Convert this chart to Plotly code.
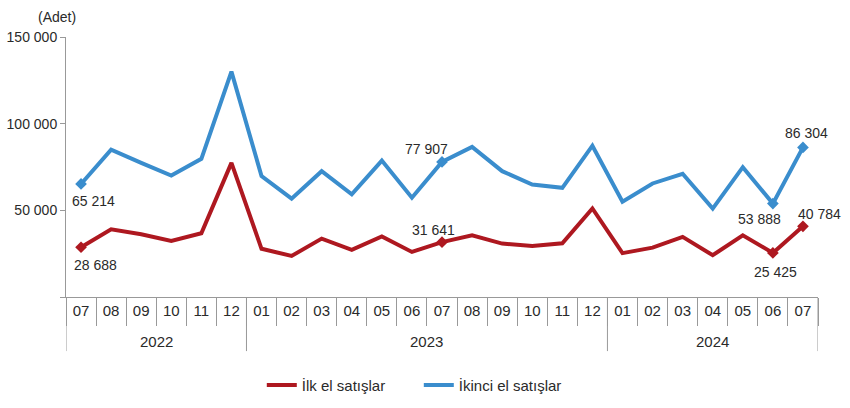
import plotly.graph_objects as go

months = ["07", "08", "09", "10", "11", "12",
          "01", "02", "03", "04", "05", "06", "07", "08", "09", "10", "11", "12",
          "01", "02", "03", "04", "05", "06", "07"]
years = ["2022"] * 6 + ["2023"] * 12 + ["2024"] * 7
year_labels = ["2022", "2023", "2024"]

ilk_el = [28688, 39000, 36200, 32400, 36800, 77400,
          27800, 23700, 33700, 27200, 34900, 26000, 31641, 35600, 30800, 29500, 31000, 51100,
          25300, 28500, 34700, 24100, 35600, 25425, 40784]
ikinci_el = [65214, 85000, 77400, 70100, 79700, 130000,
             69800, 56700, 72600, 59200, 78700, 57300, 77907, 86600, 72600, 64900, 63000, 87300,
             55000, 65500, 71100, 51000, 74900, 53888, 86304]

labeled_idx = [0, 12, 23, 24]
# label offsets in px (dx, dy up-positive)
ilk_shift = [(14, -18), (-9, 12), (3, -19), (17, 12)]
ikinci_shift = [(12, -17), (-16, 13), (-13, -15), (4, 14)]

keys = [f"{y}-{m}" for y, m in zip(years, months)]

def fmt(v):
    return f"{v:,}".replace(",", " ")

RED = "#AE1820"
BLUE = "#3A8DCD"
AX = "#999999"
TXT = "#2a2a2a"
FONT = "Liberation Sans, Arial, sans-serif"

fig = go.Figure()
annotations = []
for name, vals, color, shifts in [("İlk el satışlar", ilk_el, RED, ilk_shift),
                                  ("İkinci el satışlar", ikinci_el, BLUE, ikinci_shift)]:
    fig.add_trace(go.Scatter(x=keys, y=vals, name=name, mode="lines",
                             line=dict(color=color, width=4)))
    fig.add_trace(go.Scatter(x=[keys[i] for i in labeled_idx], y=[vals[i] for i in labeled_idx],
                             mode="markers", showlegend=False, hoverinfo="skip",
                             marker=dict(symbol="diamond", size=9, color=color),
                             cliponaxis=False))
    for i, (dx, dy) in zip(labeled_idx, shifts):
        annotations.append(dict(text=fmt(vals[i]), x=keys[i], y=vals[i], xref="x", yref="y",
                                xshift=dx, yshift=dy, showarrow=False,
                                xanchor="center", yanchor="middle",
                                font=dict(family=FONT, size=14, color=TXT)))

# year group dividers and labels (axis decoration)
shapes = []
starts = [years.index(y) for y in year_labels]
bounds = starts + [len(years)]
for b in bounds:
    shapes.append(dict(type="line", xref="x", yref="paper", x0=b - 0.5, x1=b - 0.5,
                       y0=0, y1=-0.208, line=dict(color=AX, width=1)))
for y, s, e in zip(year_labels, bounds[:-1], bounds[1:]):
    annotations.append(dict(text=y, xref="x", yref="paper", x=(s + e - 1) / 2, y=-0.173,
                            xanchor="center", yanchor="middle", showarrow=False,
                            font=dict(family=FONT, size=15, color=TXT)))
annotations.append(dict(text="(Adet)", xref="paper", yref="paper", x=-0.012, y=1.077,
                        xanchor="center", yanchor="middle", showarrow=False,
                        font=dict(family=FONT, size=14, color=TXT)))

fig.update_layout(
    width=850, height=408,
    margin=dict(l=66, r=32, t=37, b=111, autoexpand=False),
    plot_bgcolor="white", paper_bgcolor="white",
    font=dict(family=FONT, size=14, color=TXT),
    showlegend=True,
    legend=dict(orientation="h", xref="container", yref="container",
                x=0.308, xanchor="left", y=0.056, yanchor="middle",
                font=dict(family=FONT, size=15, color=TXT),
                entrywidth=112, entrywidthmode="pixels", itemwidth=30),
    shapes=shapes,
    annotations=annotations,
    hovermode=False,
)
fig.update_yaxes(range=[0, 150000], tickvals=[0, 50000, 100000, 150000],
                 ticktext=["", "50 000", "100 000", "150 000"],
                 showgrid=False, zeroline=False, showline=True, linecolor=AX,
                 linewidth=1, ticks="outside", ticklen=5, tickcolor=AX,
                 tickfont=dict(family=FONT, size=14, color=TXT), automargin=False)
fig.update_xaxes(type="category", tickvals=keys, ticktext=months,
                 showgrid=False, showline=True, linecolor=AX,
                 linewidth=1, ticks="outside", tickson="boundaries", ticklen=28,
                 tickcolor=AX,
                 tickfont=dict(family=FONT, size=15, color=TXT),
                 range=[-0.5, 24.5], automargin=False)

fig.write_html("out.html", config={"displayModeBar": False},
               post_script="document.body.style.margin='0';")
